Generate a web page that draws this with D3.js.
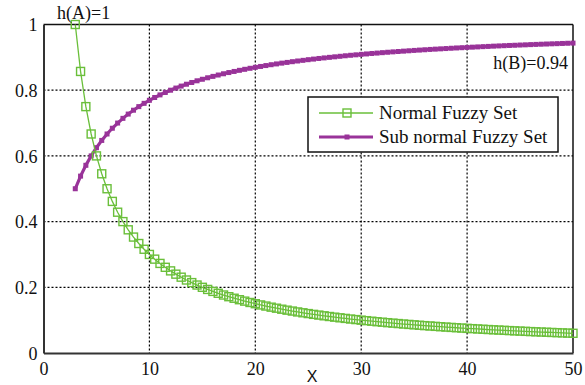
<!DOCTYPE html>
<html><head><meta charset="utf-8">
<script src="https://cdn.jsdelivr.net/npm/d3@7"></script>
<style>body{margin:0;background:#fff}svg{display:block}
.sf{font-family:"Liberation Serif","Times New Roman",Times,"DejaVu Serif",serif}
</style>
</head><body>
<svg id="c" width="585" height="385"></svg>
<script>
const xValues = [3,3.5,4,4.5,5,5.5,6,6.5,7,7.5,8,8.5,9,9.5,10,10.5,11,11.5,12,12.5,13,13.5,14,14.5,15,15.5,16,16.5,17,17.5,18,18.5,19,19.5,20,20.5,21,21.5,22,22.5,23,23.5,24,24.5,25,25.5,26,26.5,27,27.5,28,28.5,29,29.5,30,30.5,31,31.5,32,32.5,33,33.5,34,34.5,35,35.5,36,36.5,37,37.5,38,38.5,39,39.5,40,40.5,41,41.5,42,42.5,43,43.5,44,44.5,45,45.5,46,46.5,47,47.5,48,48.5,49,49.5,50];
const normalSet = [1,0.8571,0.75,0.6667,0.6,0.5455,0.5,0.4615,0.4286,0.4,0.375,0.3529,0.3333,0.3158,0.3,0.2857,0.2727,0.2609,0.25,0.24,0.2308,0.2222,0.2143,0.2069,0.2,0.1935,0.1875,0.1818,0.1765,0.1714,0.1667,0.1622,0.1579,0.1538,0.15,0.1463,0.1429,0.1395,0.1364,0.1333,0.1304,0.1277,0.125,0.1224,0.12,0.1176,0.1154,0.1132,0.1111,0.1091,0.1071,0.1053,0.1034,0.1017,0.1,0.0984,0.0968,0.0952,0.0938,0.0923,0.0909,0.0896,0.0882,0.087,0.0857,0.0845,0.0833,0.0822,0.0811,0.08,0.0789,0.0779,0.0769,0.0759,0.075,0.0741,0.0732,0.0723,0.0714,0.0706,0.0698,0.069,0.0682,0.0674,0.0667,0.0659,0.0652,0.0645,0.0638,0.0632,0.0625,0.0619,0.0612,0.0606,0.06];
const subNormalSet = [0.5,0.5385,0.5714,0.6,0.625,0.6471,0.6667,0.6842,0.7,0.7143,0.7273,0.7391,0.75,0.76,0.7692,0.7778,0.7857,0.7931,0.8,0.8065,0.8125,0.8182,0.8235,0.8286,0.8333,0.8378,0.8421,0.8462,0.85,0.8537,0.8571,0.8605,0.8636,0.8667,0.8696,0.8723,0.875,0.8776,0.88,0.8824,0.8846,0.8868,0.8889,0.8909,0.8929,0.8947,0.8966,0.8983,0.9,0.9016,0.9032,0.9048,0.9063,0.9077,0.9091,0.9104,0.9118,0.913,0.9143,0.9155,0.9167,0.9178,0.9189,0.92,0.9211,0.9221,0.9231,0.9241,0.925,0.9259,0.9268,0.9277,0.9286,0.9294,0.9302,0.931,0.9318,0.9326,0.9333,0.9341,0.9348,0.9355,0.9362,0.9368,0.9375,0.9381,0.9388,0.9394,0.94,0.9406,0.9412,0.9417,0.9423,0.9429,0.9434];
const xTicks = [0,10,20,30,40,50];
const yTicks = [0,0.2,0.4,0.6,0.8,1];
const yTickLabels = ["0","0.2","0.4","0.6","0.8","1"];
const seriesNames = ["Normal Fuzzy Set","Sub normal Fuzzy Set"];
const annotations = ["h(A)=1","h(B)=0.94"];
const xLabel = "X";

const GREEN = "#6abf3a", PURPLE = "#993399";
const svg = d3.select("#c");
const L = 43.5, R = 573, T = 24.5, B = 353;
const x = d3.scaleLinear().domain([0,50]).range([L,R]);
const y = d3.scaleLinear().domain([0,1]).range([B,T]);

svg.append("rect").attr("width",585).attr("height",385).attr("fill","#fff");

// grid
const grid = svg.append("g").attr("stroke","#000").attr("stroke-width",1.2).attr("stroke-dasharray","2,2");
xTicks.filter(t=>t>0&&t<50).forEach(t=>grid.append("line").attr("x1",x(t)).attr("x2",x(t)).attr("y1",T).attr("y2",B));
yTicks.filter(t=>t>0&&t<1).forEach(t=>grid.append("line").attr("y1",y(t)).attr("y2",y(t)).attr("x1",L).attr("x2",R));

// frame
svg.append("line").attr("x1",L).attr("x2",R).attr("y1",y(1)).attr("y2",y(1)).attr("stroke","#111").attr("stroke-width",1.5);
svg.append("line").attr("x1",R).attr("x2",R).attr("y1",T).attr("y2",B).attr("stroke","#111").attr("stroke-width",1.5);

// axes
const xAxis = d3.axisBottom(x).tickValues(xTicks).tickSize(0).tickPadding(9);
const yAxis = d3.axisLeft(y).tickValues(yTicks).tickSize(0).tickPadding(6).tickFormat((d,i)=>yTickLabels[i]);
const gx = svg.append("g").attr("transform",`translate(0,${B})`).call(xAxis);
const gy = svg.append("g").attr("transform",`translate(${L},0)`).call(yAxis);
[gx,gy].forEach(g=>{
  g.attr("font-family",null).attr("font-size",null);
  g.select(".domain").attr("stroke","#333").attr("stroke-width",2);
  g.selectAll("text").attr("class","sf").style("font-size","18px").attr("fill","#111");
});
gx.selectAll("text").attr("dy","0.71em");
gy.selectAll("text").attr("dy","0.35em");

// series
const pts1 = xValues.map((v,i)=>[v,normalSet[i]]);
const pts2 = xValues.map((v,i)=>[v,subNormalSet[i]]);
const line = d3.line().x(d=>x(d[0])).y(d=>y(d[1]));

svg.append("path").attr("d",line(pts2)).attr("fill","none").attr("stroke",PURPLE).attr("stroke-width",3.2);
svg.append("g").selectAll("rect").data(pts2).join("rect")
  .attr("x",d=>x(d[0])-2.5).attr("y",d=>y(d[1])-2.5).attr("width",5).attr("height",5).attr("fill",PURPLE);

svg.append("path").attr("d",line(pts1)).attr("fill","none").attr("stroke",GREEN).attr("stroke-width",1.3);
svg.append("g").selectAll("rect").data(pts1).join("rect")
  .attr("x",d=>x(d[0])-4).attr("y",d=>y(d[1])-4).attr("width",8).attr("height",8)
  .attr("fill","none").attr("stroke",GREEN).attr("stroke-width",1.4);

// annotations
svg.append("text").attr("class","sf").attr("x",57).attr("y",19).style("font-size","18px").attr("fill","#111").text(annotations[0]);
svg.append("text").attr("class","sf").attr("x",568).attr("y",69).attr("text-anchor","end").style("font-size","18px").attr("fill","#111").text(annotations[1]);

// x label
svg.append("text").attr("x",312).attr("y",382).attr("text-anchor","middle").style("font-family","'Liberation Sans',Arial,sans-serif").style("font-size","16px").attr("fill","#111").text(xLabel);

// legend
const lg = svg.append("g");
lg.append("rect").attr("x",308).attr("y",97).attr("width",250).attr("height",55).attr("fill","#fff").attr("stroke","#111").attr("stroke-width",1.5);
const rows = [113,137];
lg.append("line").attr("x1",319).attr("x2",373).attr("y1",rows[0]).attr("y2",rows[0]).attr("stroke",GREEN).attr("stroke-width",1.3);
lg.append("rect").attr("x",347-4).attr("y",rows[0]-4).attr("width",8).attr("height",8).attr("fill","none").attr("stroke",GREEN).attr("stroke-width",1.4);
lg.append("line").attr("x1",319).attr("x2",373).attr("y1",rows[1]).attr("y2",rows[1]).attr("stroke",PURPLE).attr("stroke-width",3.2);
lg.append("rect").attr("x",347-2.5).attr("y",rows[1]-2.5).attr("width",5).attr("height",5).attr("fill",PURPLE);
seriesNames.forEach((n,i)=>{
  lg.append("text").attr("class","sf").attr("x",379).attr("y",rows[i]+6).style("font-size","19px").attr("fill","#111").text(n);
});
</script>
</body></html>
